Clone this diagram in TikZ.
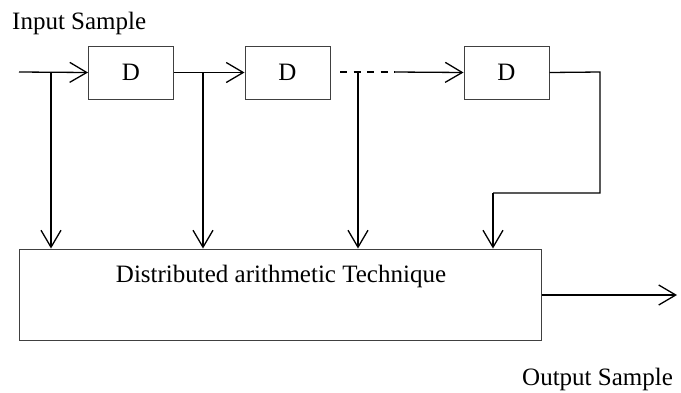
\documentclass[tikz,border=0pt]{standalone}
\usepackage{fontspec}
\setmainfont{Liberation Serif}
\usetikzlibrary{arrows.meta,calc}
\begin{document}
\begin{tikzpicture}[x=1pt,y=-1pt,
  lbl/.style={inner sep=0pt,font=\fontsize{25}{30}\selectfont},
  dbox/.style={draw=black!75,line width=1pt,minimum width=85pt,minimum height=53pt,inner sep=0pt,font=\fontsize{25}{30}\selectfont},
  bigbox/.style={draw=black!75,line width=1pt,minimum width=522pt,minimum height=91pt,inner sep=0pt},
  conn/.style={line width=1.3pt,-{Straight Barb[length=17pt,width=20pt,line width=1.3pt]}},
  wire/.style={line width=1.3pt},
  dashwire/.style={line width=1.3pt,dash pattern=on 7pt off 6.5pt}]
\useasboundingbox (0,0) rectangle (681,392);
\node[lbl,anchor=base west] (inlbl) at (12,29) {Input Sample};
\coordinate (in) at (19,72);
\node[dbox] (d1) at (131,72.5) {D};
\node[dbox] (d2) at (287.5,72.5) {D};
\node[dbox] (d3) at (506.5,72.5) {D};
\node[bigbox] (dat) at (280,294.5) {};
\node[lbl] (dattxt) at (281,276) {Distributed arithmetic Technique};
\coordinate (j1) at (51,72);
\coordinate (j2) at (203,72);
\coordinate (dstart) at (340,72);
\coordinate (j3) at (358,72);
\coordinate (dend) at (395,72);
\coordinate (c1) at (600,72);
\coordinate (c2) at (600,193);
\coordinate (c3) at (493,193);
\coordinate (out) at (677,295);
\node[lbl,anchor=base west] (outlbl) at (522,385) {Output Sample};
% main line
\draw[conn] (in) -- (d1.west);
\draw[conn] (d1.east) -- (d2.west);
\draw[dashwire] (dstart) -- (dend);
\draw[conn] (dend) -- (d3.west);
\draw[wire] (d3.east) -- (c1) -- (c2) -- (c3);
% taps
\draw[conn] (j1) -- (j1 |- dat.north);
\draw[conn] (j2) -- (j2 |- dat.north);
\draw[conn] (j3) -- (j3 |- dat.north);
\draw[conn] (c3) -- (c3 |- dat.north);
% output
\draw[conn] (dat.east |- out) -- (out);
\end{tikzpicture}
\end{document}
